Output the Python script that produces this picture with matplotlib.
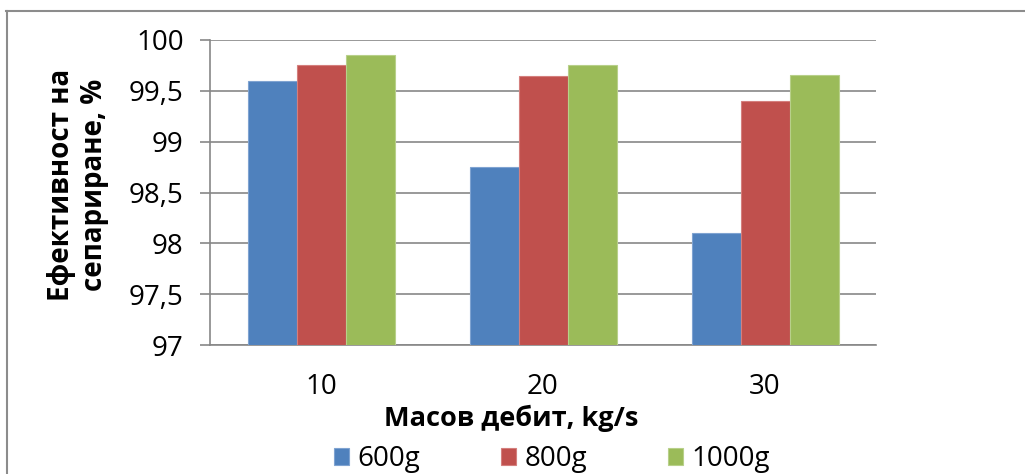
import matplotlib.pyplot as plt
import numpy as np
from matplotlib.lines import Line2D

plt.rcParams['font.family'] = ['Open Sans', 'DejaVu Sans']

flows = ['10', '20', '30']
series = ['600g', '800g', '1000g']
eff_600 = [99.6, 98.75, 98.1]
eff_800 = [99.75, 99.65, 99.4]
eff_1000 = [99.85, 99.75, 99.66]
yticks = [97, 97.5, 98, 98.5, 99, 99.5, 100]
ytick_labels = ['97', '97,5', '98', '98,5', '99', '99,5', '100']

colors = ['#4F81BD', '#C0504D', '#9BBB59']
edges = ['#7FA3D1', '#D47F7D', '#B8D08A']

W, H = 1025, 474
fig = plt.figure(figsize=(W / 100, H / 100), dpi=100)
ax = fig.add_axes([210 / W, 1 - 345 / H, 666 / W, 305 / H])

x = np.arange(len(flows))
bw = 49 / 222
for k, vals in enumerate([eff_600, eff_800, eff_1000]):
    ax.bar(x + (k - 1) * bw, np.array(vals) - 97, bw, bottom=97,
           color=colors[k], edgecolor=edges[k], linewidth=0.8,
           label=series[k], zorder=3)

ax.set_xlim(-0.5, 2.5)
ax.set_ylim(97, 100)
ax.set_yticks(yticks)
ax.set_yticklabels(ytick_labels, fontsize=20)
ax.set_xticks(x)
ax.set_xticklabels(flows, fontsize=20)
ax.tick_params(axis='y', length=7, width=1.2, color='#878787', pad=12)
ax.tick_params(axis='x', length=0, pad=20)
ax.grid(axis='y', color='#878787', linewidth=1.2, zorder=0)
for s in ['top', 'right']:
    ax.spines[s].set_visible(False)
for s in ['left', 'bottom']:
    ax.spines[s].set_color('#878787')
    ax.spines[s].set_linewidth(1.2)

fig.text(78 / W, 1 - 185 / H, 'Ефективност на\nсепариране, %', rotation=90,
         ha='center', va='center', fontsize=20, fontweight='bold',
         linespacing=1.15)
fig.text(511 / W, 1 - 418 / H, 'Масов дебит, kg/s', ha='center',
         va='center', fontsize=19.5, fontweight='bold')

leg = fig.legend(loc='center', bbox_to_anchor=(552 / W, 1 - 459 / H),
                 ncol=3, frameon=False, fontsize=20, handlelength=0.55,
                 handleheight=0.55, handletextpad=0.3, columnspacing=2.9)

# outer chart frame
fig.add_artist(Line2D([6 / W, 1], [1 - 11 / H, 1 - 11 / H], color='#8c8c8c',
                      linewidth=1.5, transform=fig.transFigure))
fig.add_artist(Line2D([7 / W, 7 / W], [0, 1 - 11 / H], color='#8c8c8c',
                      linewidth=1.5, transform=fig.transFigure))

fig.savefig('out.png', dpi=100)
